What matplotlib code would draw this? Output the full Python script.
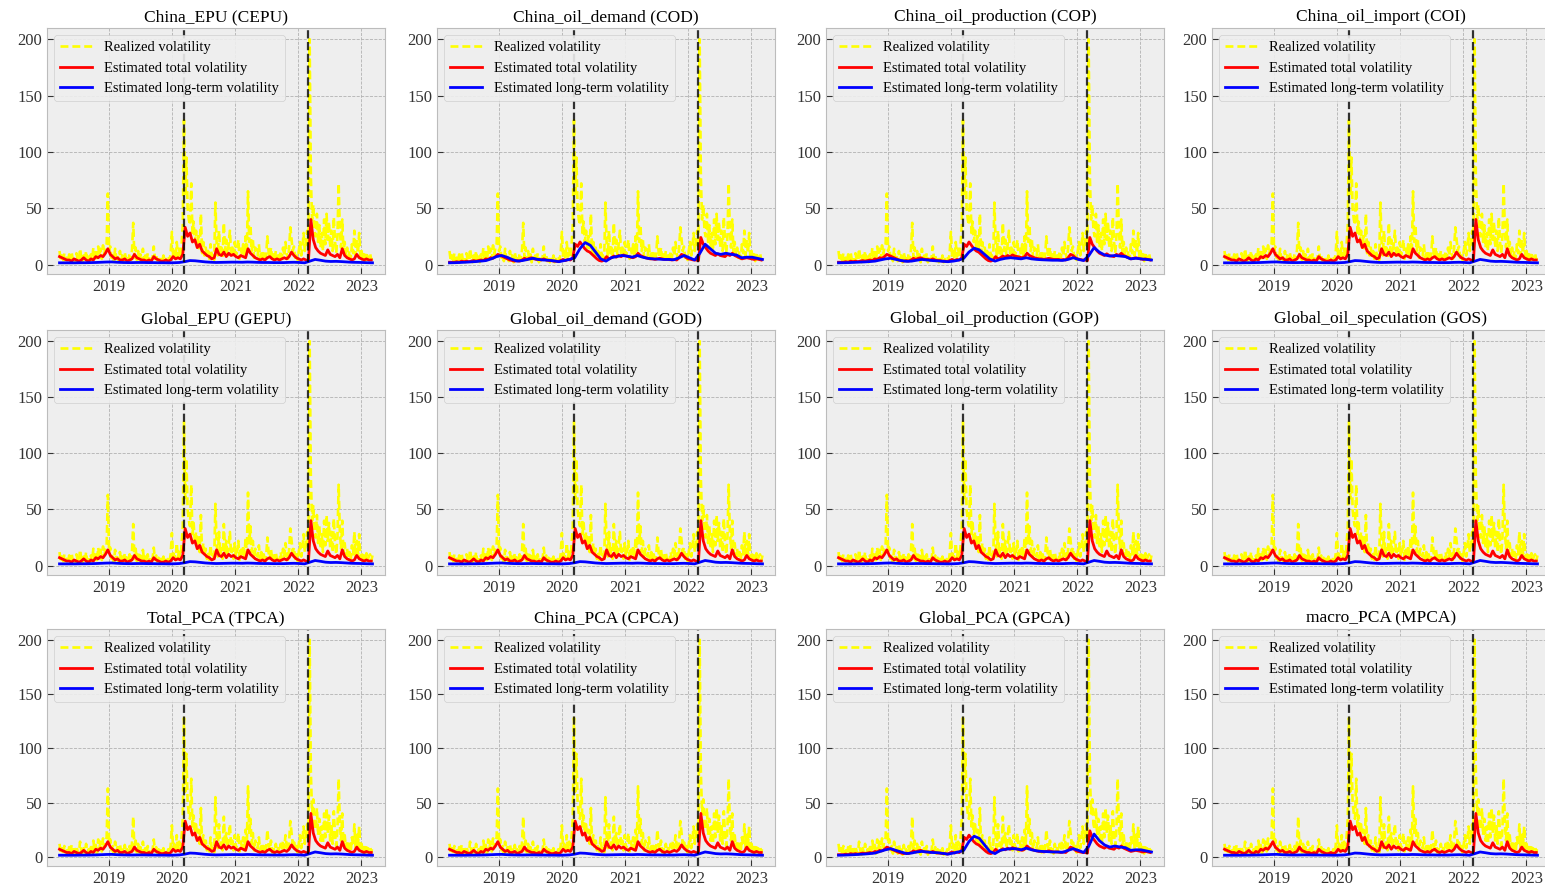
import matplotlib
matplotlib.use("Agg")
import matplotlib.pyplot as plt
import matplotlib.dates as mdates
import pandas as pd

# weekly realized volatility, starting 2018-03-19
rv_weekly = [
    12, 3, 8, 2, 10, 4, 6, 2, 9, 3, 11, 4, 7,
    2, 10, 5, 3, 14, 6, 2, 8, 4, 12, 3, 7, 2,
    9, 4, 15, 6, 11, 3, 16, 8, 14, 5, 17, 9, 15,
    18, 63, 12, 16, 6, 10, 3, 14, 5, 9, 3, 12, 4,
    8, 2, 11, 5, 7, 3, 10, 4, 13, 37, 6, 15, 4,
    12, 3, 9, 2, 14, 5, 8, 3, 10, 2, 7, 4, 6,
    16, 5, 9, 3, 7, 2, 6, 3, 8, 2, 5, 3, 7,
    4, 10, 29, 8, 12, 5, 20, 7, 14, 6, 18, 35, 128,
    60, 95, 50, 40, 35, 72, 28, 38, 20, 30, 15, 25, 12,
    45, 10, 20, 8, 15, 6, 12, 5, 18, 7, 10, 4, 55,
    20, 8, 30, 10, 15, 6, 37, 12, 22, 8, 18, 30, 10,
    15, 6, 20, 8, 12, 22, 5, 14, 9, 18, 6, 25, 10,
    65, 20, 35, 12, 22, 6, 15, 10, 8, 18, 5, 12, 4,
    10, 3, 8, 25, 12, 6, 15, 4, 9, 3, 12, 5, 8,
    4, 12, 6, 15, 8, 20, 10, 5, 14, 33, 22, 12, 16,
    6, 10, 4, 12, 20, 8, 15, 28, 12, 22, 30, 15, 200,
    78, 40, 53, 30, 25, 45, 20, 35, 15, 28, 12, 40, 18,
    45, 22, 38, 15, 30, 12, 42, 20, 10, 25, 72, 30, 15,
    40, 10, 20, 8, 15, 6, 12, 5, 18, 10, 30, 8, 22,
    10, 28, 6, 12, 4, 9, 3, 11, 5, 8, 10, 4, 9,
]

# biweekly estimated total volatility (spiky type)
red_short = [
    7, 6, 5, 4, 4, 3, 5, 4, 3, 4, 6, 4, 3,
    5, 4, 7, 6, 8, 7, 10, 14, 9, 7, 5, 6, 4,
    4, 5, 3, 4, 5, 9, 6, 5, 4, 4, 3, 4, 3,
    7, 5, 4, 3, 3, 4, 3, 4, 7, 5, 6, 5, 9,
    33, 25, 28, 20, 22, 15, 18, 12, 10, 8, 7, 5, 6,
    14, 9, 8, 11, 7, 10, 8, 9, 7, 6, 8, 7, 6,
    14, 10, 8, 6, 5, 4, 5, 4, 6, 7, 5, 4, 5,
    4, 5, 6, 5, 7, 11, 8, 6, 5, 4, 5, 4, 3,
    40, 22, 15, 12, 10, 9, 8, 13, 9, 8, 7, 9, 6,
    14, 8, 6, 5, 4, 5, 9, 6, 5, 4, 5, 4, 4,
]

# biweekly estimated total volatility (smooth type)
red_smooth = [
    2, 2, 2, 2.5, 2, 3, 2.5, 3, 2.5, 3, 3.5, 3, 3.5,
    4, 3.5, 5, 4.5, 6, 5.5, 7, 9, 8, 7, 6, 5, 4,
    3.5, 3, 3.5, 3, 4, 5.5, 4.5, 5.5, 6, 5, 4.5, 4.5, 4,
    5, 4, 3.5, 3.5, 3, 3, 2.5, 3.5, 4.5, 3.5, 4.5, 4, 6,
    18, 16, 20, 17, 14, 12, 11, 9, 7, 5, 3.5, 3, 4,
    7, 5, 6, 7.5, 6.5, 8, 7, 8.5, 7.5, 7, 6.5, 6, 7,
    10, 8, 7, 6, 5.5, 5, 5, 4.5, 5, 5.5, 5, 4.5, 4.5,
    4.5, 4, 4.5, 4, 6, 9, 8, 6, 5, 4.5, 4, 4, 3.5,
    24, 18, 15, 12, 10, 9, 8, 9.5, 8, 7.5, 7, 9, 8,
    10, 8, 7, 6, 5, 5.5, 6, 5.5, 5, 4.5, 5, 4.5, 4,
]

# monthly long-term volatility, 2018-03 .. 2023-03
blue_flat = [
    1.5, 1.5, 1.5, 1.5, 1.6, 1.6, 1.7, 1.8, 2.0, 2.2,
    2.3, 2.0, 1.8, 1.7, 1.7, 1.8, 1.8, 1.7, 1.7, 1.6, 1.6, 1.5,
    1.6, 1.8, 2.5, 3.5, 3.3, 2.8, 2.3, 2.0, 1.8, 1.9, 2.0, 2.1,
    2.1, 2.0, 2.2, 2.1, 1.9, 1.8, 1.8, 1.7, 1.7, 1.7, 1.9, 2.0,
    1.8, 1.5, 3.0, 4.5, 3.8, 3.0, 2.7, 2.8, 2.6, 2.3, 2.0, 1.9,
    1.8, 1.6, 1.5,
]
blue_cod = [
    1.5, 1.6, 1.8, 2.0, 2.3, 2.6, 3.0, 3.5, 5.0, 7.0,
    8.0, 6.5, 4.5, 3.0, 3.5, 4.5, 5.5, 4.5, 4.0, 3.8, 3.2, 2.5,
    3.5, 4.5, 6.0, 14.0, 19.5, 17.0, 11.0, 5.0, 3.0, 6.0, 7.0, 8.0,
    7.5, 6.5, 8.0, 6.5, 5.5, 5.0, 4.8, 4.5, 4.5, 4.2, 6.0, 8.0,
    6.0, 4.0, 10.0, 18.0, 14.0, 10.0, 9.0, 10.0, 9.0, 8.5, 6.0, 6.5,
    6.5, 5.5, 4.5,
]
blue_cop = [
    1.5, 1.6, 1.7, 1.9, 2.1, 2.3, 2.6, 3.0, 4.0, 5.0,
    5.5, 4.5, 3.5, 2.8, 3.0, 3.8, 4.5, 4.0, 3.5, 3.2, 2.8, 2.5,
    3.0, 3.8, 5.5, 11.0, 14.5, 13.0, 9.0, 5.0, 3.0, 4.5, 5.5, 6.0,
    5.5, 5.0, 6.0, 5.0, 4.5, 4.2, 4.0, 3.8, 3.8, 3.6, 4.5, 6.0,
    4.5, 3.5, 8.0, 15.0, 11.0, 8.5, 7.5, 8.0, 7.5, 7.0, 5.0, 5.5,
    5.0, 4.5, 4.0,
]
blue_gpca = [
    1.5, 1.6, 1.8, 2.0, 2.3, 2.6, 3.0, 3.5, 5.0, 6.5,
    7.5, 6.0, 4.5, 3.0, 3.5, 4.5, 5.0, 4.5, 4.0, 3.8, 3.2, 2.5,
    3.5, 4.5, 6.0, 14.0, 19.0, 17.0, 11.0, 5.0, 3.0, 6.0, 7.0, 7.5,
    7.5, 6.5, 8.0, 6.5, 5.5, 5.0, 4.8, 4.5, 4.5, 4.2, 6.0, 7.5,
    6.0, 4.0, 10.0, 21.0, 15.0, 11.0, 9.0, 10.0, 9.0, 8.5, 6.0, 6.5,
    6.5, 5.5, 4.5,
]

titles = [
    "China_EPU (CEPU)", "China_oil_demand (COD)", "China_oil_production (COP)", "China_oil_import (COI)",
    "Global_EPU (GEPU)", "Global_oil_demand (GOD)", "Global_oil_production (GOP)", "Global_oil_speculation (GOS)",
    "Total_PCA (TPCA)", "China_PCA (CPCA)", "Global_PCA (GPCA)", "macro_PCA (MPCA)",
]
panel_series = {
    "COD": (red_smooth, blue_cod),
    "COP": (red_smooth, blue_cop),
    "GPCA": (red_smooth, blue_gpca),
}
event_dates = ["2020-03-09", "2022-02-24"]

W, H = 1545, 885
col_left = [47, 437, 826, 1212]
col_width = 338
row_top = [28, 330, 629]
row_height = [246, 245, 237]


def main():
    plt.style.use("bmh")
    plt.rcParams["font.family"] = ["Liberation Serif", "DejaVu Serif"]

    rv_dates = pd.date_range("2018-03-19", periods=len(rv_weekly), freq="7D")
    red_dates = rv_dates[::2]
    blue_dates = pd.date_range("2018-03-19", "2023-03-06", periods=len(blue_flat))

    fig = plt.figure(figsize=(W / 100, H / 100), dpi=100)
    fig.patch.set_facecolor("white")

    for i, title in enumerate(titles):
        r, c = divmod(i, 4)
        rect = [col_left[c] / W, 1 - (row_top[r] + row_height[r]) / H,
                col_width / W, row_height[r] / H]
        ax = fig.add_axes(rect)
        code = title.split("(")[1].rstrip(")")
        red, blue = panel_series.get(code, (red_short, blue_flat))

        ax.plot(rv_dates, rv_weekly, color="yellow", linestyle=(0, (3, 1.5)), linewidth=1.9,
                label="Realized volatility")
        ax.plot(red_dates, red, color="red", linewidth=2, label="Estimated total volatility")
        ax.plot(blue_dates, blue, color="blue", linewidth=2, label="Estimated long-term volatility")
        for d in event_dates:
            ax.axvline(pd.Timestamp(d), color="black", linestyle="--", linewidth=1.6, alpha=0.8)

        ax.margins(x=0.04)
        ax.set_title(title, fontsize=12.5, pad=5)
        ax.set_yticks([0, 50, 100, 150, 200])
        ax.xaxis.set_major_locator(mdates.YearLocator())
        ax.xaxis.set_major_formatter(mdates.DateFormatter("%Y"))
        ax.tick_params(labelsize=12, direction="in", colors="#333333", length=4)
        ax.grid(True, color="#b2b2b2", linestyle="--", linewidth=0.6)
        for s in ax.spines.values():
            s.set_color("#bcbcbc")
        ax.legend(loc="upper left", fontsize=10.5, frameon=True, facecolor="#eeeeee",
                  edgecolor="#cccccc", framealpha=0.9, borderpad=0.4, handlelength=2.2)

    fig.savefig("out.png", dpi=100)
    plt.close(fig)


if __name__ == "__main__":
    main()
